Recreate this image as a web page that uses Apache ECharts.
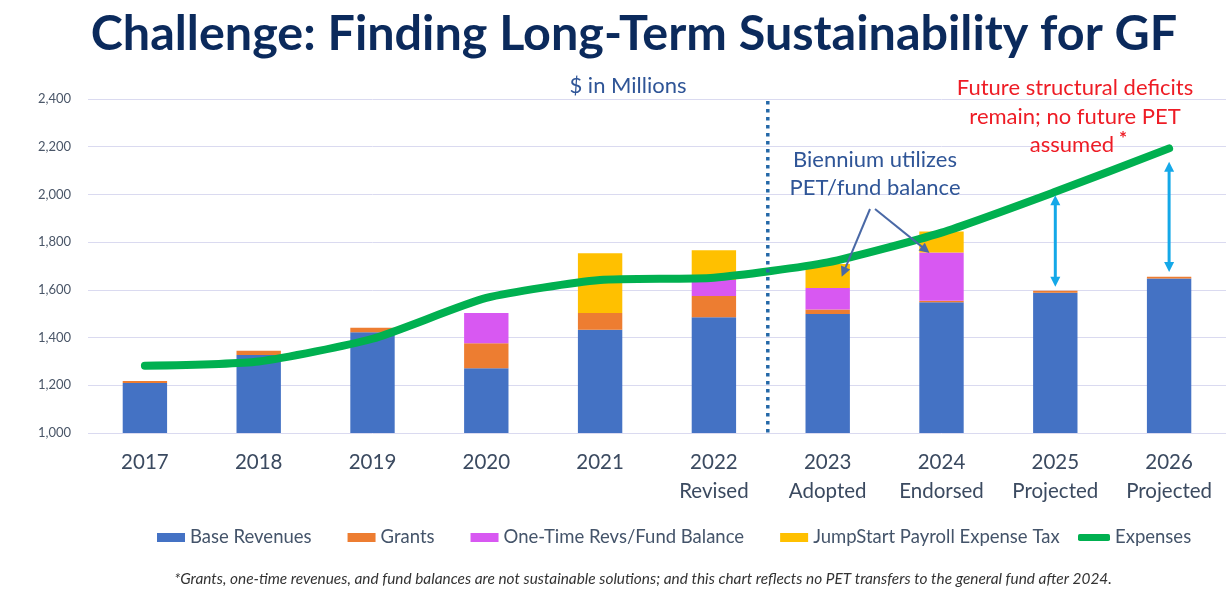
<!DOCTYPE html>
<html>
<head>
<meta charset="utf-8">
<title>Challenge: Finding Long-Term Sustainability for GF</title>
<script src="https://cdn.jsdelivr.net/npm/echarts@6/dist/echarts.min.js"></script>
<style>
  html, body { margin: 0; padding: 0; background: #fff; }
  #chart { width: 1228px; height: 590px; }
</style>
</head>
<body>
<div id="chart"></div>
<script>
// $ in millions
const categories = ['2017', '2018', '2019', '2020', '2021', '2022\nRevised', '2023\nAdopted', '2024\nEndorsed', '2025\nProjected', '2026\nProjected'];
const baseRevenues = [1210, 1327, 1422, 1271, 1433, 1485, 1499, 1548, 1588, 1648];
const grants = [8, 18, 19, 105, 70, 89, 19, 6, 8, 7];
const oneTimeRevs = [0, 0, 0, 127, 0, 67, 90, 203, 0, 0];
const jumpStartPET = [0, 0, 0, 0, 250, 125, 100, 88, 0, 0];
const expenses = [1282, 1300, 1395, 1566, 1641, 1651, 1715, 1840, 2011, 2193];

const yTicks = [1000, 2400, 200]; // min, max, step

// annotation anchors (category index, value)
const bienniumTargets = [[6, 1655], [7, 1755]];
const deficitIdx = [8, 9];
const deficitTop = [1997, 2137];
const deficitBottom = [1613, 1675];

const colors = {
  base: '#4472C4',
  grants: '#ED7D31',
  oneTime: '#D858F2',
  pet: '#FFC000',
  expenses: '#00B050'
};

const chart = echarts.init(document.getElementById('chart'));

const legendText = { fontSize: 18.5, color: '#44546A', fontFamily: 'Lato' };

const barSeries = function (name, data, color) {
  return {
    name: name,
    type: 'bar',
    stack: 'rev',
    barWidth: '39%',
    data: data,
    itemStyle: { color: color },
    emphasis: { disabled: true }
  };
};

let option = {
  animation: false,
  textStyle: { fontFamily: 'Lato' },
  grid: { left: 88, right: 2, top: 99, bottom: 157 },
  legend: [
    {
      data: ['Base Revenues', 'Grants', 'One-Time Revs/Fund Balance', 'JumpStart Payroll Expense Tax'],
      left: 152,
      top: 523,
      itemWidth: 28,
      itemHeight: 9,
      itemGap: 36,
      icon: 'rect',
      textStyle: legendText,
      selectedMode: false
    },
    {
      data: ['Expenses'],
      left: 1073,
      top: 523,
      itemWidth: 32,
      itemHeight: 7,
      icon: 'roundRect',
      textStyle: legendText,
      selectedMode: false
    }
  ],
  xAxis: {
    type: 'category',
    data: categories,
    axisLine: { show: false },
    axisTick: { show: false },
    axisLabel: { interval: 0, fontSize: 20.5, color: '#3B4A60', lineHeight: 29, margin: 15 }
  },
  yAxis: {
    type: 'value',
    min: yTicks[0],
    max: yTicks[1],
    interval: yTicks[2],
    axisLine: { show: false },
    axisTick: { show: false },
    axisLabel: {
      fontSize: 13,
      color: '#4A5668',
      margin: 17,
      formatter: function (v) { return v.toLocaleString('en-US'); }
    },
    splitLine: { lineStyle: { color: '#DADAF0', width: 1 } }
  },
  series: [
    barSeries('Base Revenues', baseRevenues, colors.base),
    barSeries('Grants', grants, colors.grants),
    barSeries('One-Time Revs/Fund Balance', oneTimeRevs, colors.oneTime),
    barSeries('JumpStart Payroll Expense Tax', jumpStartPET, colors.pet),
    {
      name: 'Expenses',
      type: 'line',
      data: expenses,
      smooth: 0.2,
      symbol: 'none',
      z: 5,
      itemStyle: { color: colors.expenses },
      lineStyle: { color: colors.expenses, width: 8, cap: 'round', join: 'round' },
      emphasis: { disabled: true }
    }
  ]
};

chart.setOption(option);

// ---- annotations ----
const px = function (i, v) {
  return chart.convertToPixel({ gridIndex: 0 }, [i, v]);
};

const arrowHead = function (x1, y1, x2, y2, len, half, color) {
  let a = Math.atan2(y2 - y1, x2 - x1);
  let bx = x2 - len * Math.cos(a), by = y2 - len * Math.sin(a);
  let nx = -Math.sin(a) * half, ny = Math.cos(a) * half;
  return {
    type: 'polygon',
    shape: { points: [[x2, y2], [bx + nx, by + ny], [bx - nx, by - ny]] },
    style: { fill: color },
    z: 20
  };
};

const arrow = function (x1, y1, x2, y2, color, width, both) {
  let len = 10, half = 5;
  let a = Math.atan2(y2 - y1, x2 - x1);
  let sx = both ? x1 + (len - 2) * Math.cos(a) : x1;
  let sy = both ? y1 + (len - 2) * Math.sin(a) : y1;
  let ex = x2 - (len - 2) * Math.cos(a), ey = y2 - (len - 2) * Math.sin(a);
  let out = [{
    type: 'line',
    shape: { x1: sx, y1: sy, x2: ex, y2: ey },
    style: { stroke: color, lineWidth: width },
    z: 20
  }, arrowHead(x1, y1, x2, y2, len, half, color)];
  if (both) out.push(arrowHead(x2, y2, x1, y1, len, half, color));
  return out;
};

let graphics = [];

// title and captions
graphics.push({
  type: 'text', x: 634, y: 34, z: 30,
  style: {
    text: 'Challenge: Finding Long-Term Sustainability for GF',
    font: 'bold 48.5px Lato', fill: '#0B2A5C', align: 'center', verticalAlign: 'middle'
  }
});
graphics.push({
  type: 'text', x: 628, y: 86, z: 30,
  style: { text: '$ in Millions', font: '22px Lato', fill: '#2F5597', align: 'center', verticalAlign: 'middle' }
});
graphics.push({
  type: 'text', x: 875, y: 174, z: 30,
  style: {
    text: 'Biennium utilizes\nPET/fund balance', font: '22px Lato', lineHeight: 28,
    fill: '#2F5597', align: 'center', verticalAlign: 'middle'
  }
});
graphics.push({
  type: 'text', x: 1075, y: 102, z: 30,
  style: {
    text: 'Future structural deficits\nremain; no future PET', font: '22px Lato', lineHeight: 29,
    fill: '#EE1C25', align: 'center', verticalAlign: 'middle'
  }
});
graphics.push({
  type: 'text', x: 1072, y: 145, z: 30,
  style: { text: 'assumed', font: '22px Lato', fill: '#EE1C25', align: 'center', verticalAlign: 'middle' }
});
graphics.push({
  type: 'text', x: 1123, y: 139, z: 30,
  style: { text: '*', font: 'bold 19px Lato', fill: '#EE1C25', align: 'center', verticalAlign: 'middle' }
});
graphics.push({
  type: 'text', x: 643, y: 579, z: 30,
  style: {
    text: '*Grants, one-time revenues, and fund balances are not sustainable solutions; and this chart reflects no PET transfers to the general fund after 2024.',
    font: 'italic 15.4px Lato', fill: '#333333', align: 'center', verticalAlign: 'middle'
  }
});

// dotted divider between actuals and budget years
let divX = (px(5, yTicks[0])[0] + px(6, yTicks[0])[0]) / 2 - 3;
graphics.push({
  type: 'line', z: 15,
  shape: { x1: divX, y1: px(0, yTicks[1])[1] + 2, x2: divX, y2: px(0, yTicks[0])[1] },
  style: { stroke: '#2468A8', lineWidth: 3.5, lineDash: [3.5, 4.5] }
});

// biennium pointers
let bStarts = [[870, 209], [875, 209]];
let bOffsets = [14, -12];
bienniumTargets.forEach(function (t, k) {
  let p = px(t[0], t[1]);
  graphics = graphics.concat(arrow(bStarts[k][0], bStarts[k][1], p[0] + bOffsets[k], p[1], '#4A69A6', 2, false));
});

// structural deficit gaps
deficitIdx.forEach(function (i, k) {
  let top = px(i, deficitTop[k]);
  let bot = px(i, deficitBottom[k]);
  graphics = graphics.concat(arrow(top[0], top[1], bot[0], bot[1], '#14A8E8', 3, true));
});

chart.setOption({ graphic: graphics });
</script>
</body>
</html>
